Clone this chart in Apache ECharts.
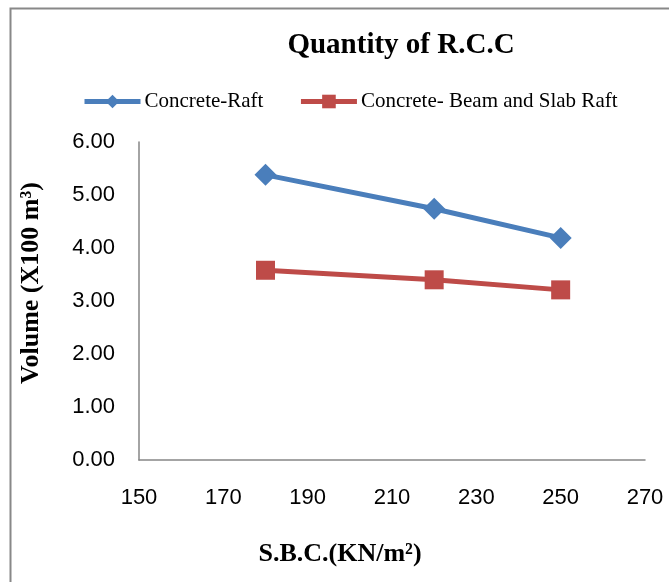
<!DOCTYPE html>
<html>
<head>
<meta charset="utf-8">
<script src="https://cdn.jsdelivr.net/npm/echarts@6/dist/echarts.min.js"></script>
<style>html,body{margin:0;padding:0;background:#fff}#c{width:669px;height:582px}</style>
</head>
<body>
<div id="c"></div>
<script>
var sbc = [180, 220, 250];
var raftValues = [5.38, 4.74, 4.19];
var beamSlabValues = [3.58, 3.40, 3.21];
var seriesNames = ['Concrete-Raft', 'Concrete- Beam and Slab Raft'];

var chart = echarts.init(document.getElementById('c'), null, {renderer: 'canvas'});
function pairs(xs, ys) { return xs.map(function (x, i) { return [x, ys[i]]; }); }
var serif = 'Liberation Serif';
var sans = 'Liberation Sans';
chart.setOption({
  animation: false,
  backgroundColor: '#fff',
  title: {
    text: 'Quantity of R.C.C',
    left: 401, top: 31, textAlign: 'center', padding: 0,
    textStyle: {fontFamily: serif, fontWeight: 'bold', fontSize: 29, color: '#000'}
  },
  legend: {
    left: 82, top: 91, padding: 0, itemWidth: 56, itemHeight: 17, itemGap: 35,
    lineStyle: {width: 5},
    textStyle: {fontFamily: serif, fontSize: 21, color: '#000', padding: [0,0,0,-1]},
    data: seriesNames
  },
  grid: {left: 139, right: 24, top: 142, bottom: 122, containLabel: false},
  xAxis: {
    type: 'value', min: 150, max: 270, interval: 20,
    splitLine: {show: false},
    axisLine: {show: true, onZero: false, lineStyle: {color: '#868686', width: 1.5}},
    axisTick: {show: false},
    axisLabel: {fontFamily: sans, fontSize: 22, color: '#000', margin: 27}
  },
  yAxis: {
    type: 'value', min: 0, max: 6, interval: 1,
    splitLine: {show: false},
    axisLine: {show: true, lineStyle: {color: '#868686', width: 1.5}},
    axisTick: {show: false},
    axisLabel: {fontFamily: sans, fontSize: 22, color: '#000', margin: 24,
      formatter: function (v) { return v.toFixed(2); }}
  },
  graphic: [
    {type: 'rect', shape: {x: 10.5, y: 8.5, width: 700, height: 700}, style: {fill: 'none', stroke: '#888', lineWidth: 2}, silent: true},
    {type: 'text', x: 31, y: 283, rotation: Math.PI / 2,
      style: {text: 'Volume (X100 m³)', fontFamily: serif, fontWeight: 'bold', fontSize: 26, fill: '#000', align: 'center', verticalAlign: 'middle'}},
    {type: 'text', x: 340, y: 554,
      style: {text: 'S.B.C.(KN/m²)', fontFamily: serif, fontWeight: 'bold', fontSize: 26, fill: '#000', align: 'center', verticalAlign: 'middle'}}
  ],
  series: [
    {
      name: seriesNames[0], type: 'line', data: pairs(sbc, raftValues),
      symbol: 'diamond', symbolSize: 22,
      lineStyle: {color: '#4A7EBB', width: 5},
      itemStyle: {color: '#4A7EBB'}
    },
    {
      name: seriesNames[1], type: 'line', data: pairs(sbc, beamSlabValues),
      symbol: 'rect', symbolSize: 19,
      lineStyle: {color: '#BE4B48', width: 5},
      itemStyle: {color: '#BE4B48'}
    }
  ]
});
</script>
</body>
</html>
